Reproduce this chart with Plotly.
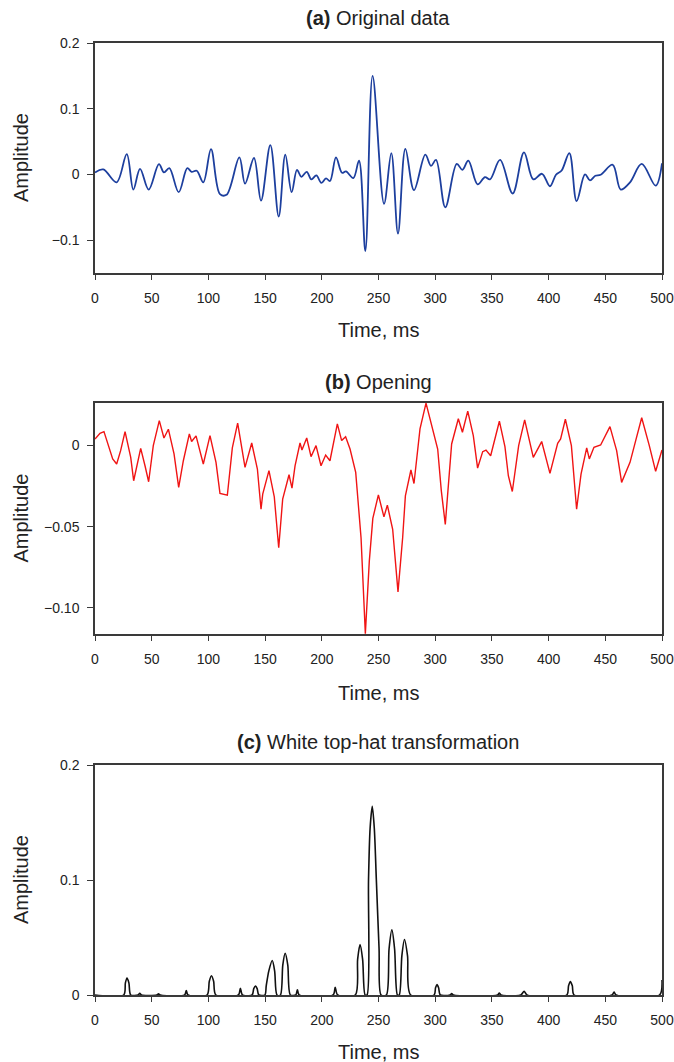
import plotly.graph_objects as go

# ---------------- (a) original trace: picked extrema (time ms, amplitude) ----------------
orig_t = [0, 7.3, 19, 28, 33.8, 39.7, 47.3, 56.4, 60.8, 65.5, 73.8, 81.4, 85.2, 89.7, 95.5,
          102.3, 110.2, 116, 127.3, 132.3, 140.2, 146.4, 154.6, 162, 167.8, 173.4, 178.1,
          182, 186.7, 190.8, 195.2, 199.6, 203.7, 207.2, 212.5, 217.8, 221.3, 227.8, 232.8,
          238.4, 244.8, 254.9, 261.3, 267.2, 273.7, 281.3, 291.3, 296.3, 300.7, 308.9, 319,
          324, 329.2, 337.4, 343.9, 348.3, 357.2, 368.3, 378.3, 386.5, 394.2, 401.2, 406.5,
          411.5, 418.3, 424.7, 432.1, 436.5, 441.2, 445.9, 456.5, 463.6, 471.8, 482.1, 494.4, 500]
orig_v = [0.003, 0.0076, -0.012, 0.031, -0.023, 0.0086, -0.023, 0.0157, 0.003, 0.0096, -0.027,
          0.0096, 0.004, 0.0056, -0.012, 0.0386, -0.030, -0.031, 0.026, -0.014, 0.025, -0.040,
          0.0447, -0.064, 0.030, -0.027, 0.007, -0.0036, 0.004, -0.0076, -0.0015, -0.013,
          -0.006, -0.010, 0.026, 0.0025, 0.0046, -0.0056, 0.0208, -0.1167, 0.150, -0.0446,
          0.0325, -0.090, 0.039, -0.024, 0.030, 0.013, 0.022, -0.050, 0.016, 0.007, 0.021,
          -0.015, -0.004, -0.0076, 0.022, -0.029, 0.0335, -0.0076, 0.001, -0.018, -0.0005,
          0.006, 0.0325, -0.0406, 0.0, -0.009, -0.002, -0.0005, 0.0147, -0.023, -0.012,
          0.016, -0.017, 0.017]

# ---------------- (b) morphological opening ----------------
open_t = [0, 4.4, 7.9, 11.8, 15.6, 19.1, 22.6, 26.5, 31.5, 34.1,
          36.7, 40.3, 44.1, 47.3, 51.4, 56.7, 60.8, 64.7, 69.7, 73.8,
          77.9, 83.2, 85.2, 89.1, 95.5, 101.4, 106.7, 110.2, 116.7, 121.1,
          125.8, 132.3, 138.2, 143.2, 146.4, 147.9, 153.4, 158.1, 162, 165.5,
          171.1, 173.7, 176.4, 180.8, 182.5, 186.7, 190.5, 194.9, 199.3, 203.4,
          207.2, 209.6, 213.7, 217.5, 221, 224.9, 229.9, 234.6, 238.4, 241.9,
          245, 249.9, 254.8, 257.8, 262.5, 267.2, 271.3, 273.7, 278.6, 281.3,
          286.6, 291.9, 296.3, 302.2, 305.4, 308.9, 314.5, 320.4, 324, 328.7,
          333.6, 337.4, 341.9, 344.8, 348.9, 356.6, 361.5, 364.5, 368, 373.6,
          378.9, 383, 386.5, 393.9, 401.2, 408, 410.6, 414.8, 420.1, 424.7,
          428.6, 433.6, 435.9, 440, 445.9, 454.1, 460, 464.4, 471.8, 476.8,
          482.1, 488.8, 494.4, 500]
open_v = [0.0039, 0.0074, 0.0084, -0.0002, -0.0084, -0.0115, -0.0033, 0.0084, -0.0074, -0.0218,
          -0.0126, -0.0019, -0.0126, -0.0224, -0.0002, 0.0152, 0.0045, 0.0099, -0.0053, -0.0259,
          -0.0095, 0.007, 0.0023, 0.0058, -0.0115, 0.006, -0.0105, -0.0296, -0.0307, -0.0016,
          0.0136, -0.0136, 0.0014, -0.0146, -0.0393, -0.030, -0.0156, -0.0317, -0.063, -0.0331,
          -0.0181, -0.0263, -0.0126, 0.0014, -0.0029, 0.0045, -0.007, -0.0002, -0.0126, -0.006,
          -0.0095, -0.0012, 0.0132, 0.0029, 0.0053, -0.0023, -0.0167, -0.0568, -0.1158, -0.0712,
          -0.0449, -0.0305, -0.044, -0.0368, -0.0516, -0.0901, -0.0568, -0.0311, -0.0152, -0.0235,
          0.0101, 0.0259, 0.0142, -0.0023, -0.028, -0.0486, 0.0008, 0.0163, 0.008, 0.021,
          0.006, -0.014, -0.0039, -0.0029, -0.0064, 0.0148, -0.0008, -0.0187, -0.0284, -0.0002,
          0.0156, 0.0023, -0.0074, 0.0023, -0.0173, 0.0012, 0.0039, 0.016, -0.0002, -0.0393,
          -0.0177, -0.0016, -0.0084, -0.0012, 0.0002, 0.0115, -0.0033, -0.0228, -0.0105, 0.0029,
          0.0169, -0.0002, -0.016, -0.0029]

# ---------------- (c) white top-hat residual ----------------
tophat_t = [0, 25.3, 26.8, 28.2, 29.9, 31.5,
            38, 39.5, 41, 54.5, 56, 57.5, 79, 80.5, 82,
            98.8, 100.8, 102.7, 104.6, 106.6,
            126.5, 128.2, 130,
            138.5, 140, 141.6, 143, 144.5,
            149.8, 151, 153.3, 156.3, 158.4, 160.5,
            163.5, 165.6, 167.7, 170, 172.3,
            177, 178.5, 180,
            210, 211.8, 214,
            229.5, 231.6, 233.7, 236, 238.2,
            239.9, 241.2, 242.6, 244.5, 246.3, 248.1, 250.5, 252.3,
            256.9, 259.3, 261.8, 264.2, 266.7,
            268.3, 270.6, 272.9, 275.6, 278.4,
            299, 300.3, 301.6, 303, 304.5,
            313, 314.5, 316, 355, 356.5, 358,
            375.5, 378.4, 381,
            416, 417.6, 419.2, 420.9, 422.5,
            456, 457.7, 459.5, 497.8, 500]
tophat_v = [0, 0, 0.0105, 0.0148, 0.0105, 0,
            0, 0.0015, 0, 0, 0.001, 0, 0, 0.0038, 0,
            0, 0.012, 0.0168, 0.012, 0,
            0, 0.0058, 0,
            0, 0.0055, 0.0078, 0.0055, 0,
            0, 0.008, 0.021, 0.030, 0.021, 0,
            0, 0.026, 0.0363, 0.026, 0,
            0, 0.0046, 0,
            0, 0.0067, 0,
            0, 0.031, 0.0438, 0.031, 0,
            0, 0.10, 0.145, 0.164, 0.145, 0.10, 0.04, 0,
            0, 0.04, 0.0566, 0.04, 0,
            0, 0.034, 0.0482, 0.034, 0,
            0, 0.0063, 0.009, 0.0063, 0,
            0, 0.0012, 0, 0, 0.0017, 0,
            0, 0.0032, 0,
            0, 0.008, 0.0116, 0.008, 0,
            0, 0.0026, 0, 0, 0.013]

time_ticks = list(range(0, 501, 50))

W, H = 674, 1062
FONT = "Liberation Sans, Arial, sans-serif"
INK = "#222222"
FRAME = "#3a3a3a"

x_dom = [95 / W, 662 / W]
panels = [
    # (top px, bottom px, y range, tick values, tick labels, title)
    (43, 273, [-0.15, 0.2], [-0.1, 0, 0.1, 0.2], ["\u22120.1", "0", "0.1", "0.2"],
     "<b>(a)</b> Original data"),
    (403, 634, [-0.116, 0.026], [-0.10, -0.05, 0], ["\u22120.10", "\u22120.05", "0"],
     "<b>(b)</b> Opening"),
    (765, 995, [0, 0.2], [0, 0.1, 0.2], ["0", "0.1", "0.2"],
     "<b>(c)</b> White top-hat transformation"),
]
title_y = [18, 382, 742]
xtitle_y = [330, 693, 1052]

fig = go.Figure()
fig.add_trace(go.Scatter(x=orig_t, y=orig_v, mode="lines",
                         line=dict(color="#1d3f9e", width=1.8, shape="spline", smoothing=1.0),
                         xaxis="x", yaxis="y", showlegend=False))
fig.add_trace(go.Scatter(x=open_t, y=open_v, mode="lines",
                         line=dict(color="#f01414", width=1.4),
                         xaxis="x2", yaxis="y2", showlegend=False))
fig.add_trace(go.Scatter(x=tophat_t, y=tophat_v, mode="lines",
                         line=dict(color="#111111", width=1.6, shape="spline", smoothing=0.8),
                         xaxis="x3", yaxis="y3", showlegend=False))

layout = dict(
    width=W, height=H,
    margin=dict(l=0, r=0, t=0, b=0),
    paper_bgcolor="white", plot_bgcolor="white",
    font=dict(family=FONT, color=INK),
    annotations=[],
)

for i, (top, bot, yr, tv, tt, title) in enumerate(panels):
    sfx = "" if i == 0 else str(i + 1)
    layout["xaxis" + sfx] = dict(
        domain=x_dom, range=[0, 500], tickvals=time_ticks,
        anchor="y" + sfx, showline=True, mirror=True, linecolor=FRAME, linewidth=1.5,
        ticks="outside", ticklen=5, tickwidth=1.3, tickcolor=FRAME,
        showgrid=False, zeroline=False, automargin=False,
        tickfont=dict(size=14, family=FONT, color=INK), ticklabelstandoff=6,
    )
    layout["yaxis" + sfx] = dict(
        domain=[1 - bot / H, 1 - top / H], range=yr, tickvals=tv, ticktext=tt,
        anchor="x" + sfx, showline=True, mirror=True, linecolor=FRAME, linewidth=1.5,
        ticks="outside", ticklen=6, tickwidth=1.3, tickcolor=FRAME,
        showgrid=False, zeroline=False, automargin=False,
        tickfont=dict(size=14, family=FONT, color=INK), ticklabelstandoff=5,
    )
    layout["annotations"] += [
        dict(text=title, x=378 / W, y=1 - title_y[i] / H, xref="paper", yref="paper",
             xanchor="center", yanchor="middle", showarrow=False,
             font=dict(size=20, family=FONT, color=INK)),
        dict(text="Time, ms", x=378 / W, y=1 - xtitle_y[i] / H, xref="paper", yref="paper",
             xanchor="center", yanchor="middle", showarrow=False,
             font=dict(size=20, family=FONT, color=INK)),
        dict(text="Amplitude", x=21 / W, y=1 - (top + bot) / 2 / H, xref="paper", yref="paper",
             xanchor="center", yanchor="middle", showarrow=False, textangle=-90,
             font=dict(size=20, family=FONT, color=INK)),
    ]

fig.update_layout(**layout)
fig.write_html("out.html")
